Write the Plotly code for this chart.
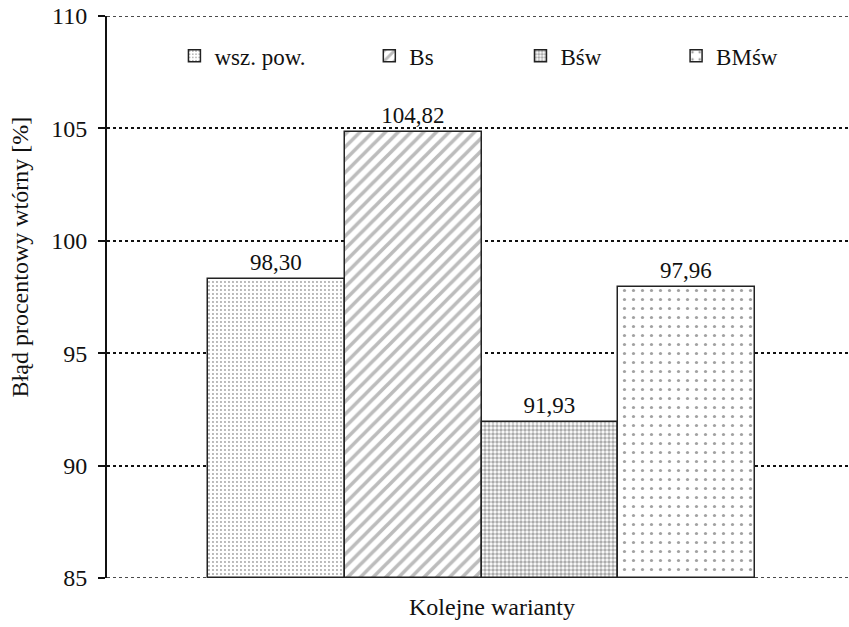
import plotly.graph_objects as go

# Data
variants = ["wsz. pow.", "Bs", "Bśw", "BMśw"]
values = [98.30, 104.82, 91.93, 97.96]
value_labels = ["98,30", "104,82", "91,93", "97,96"]
y_ticks = [85, 90, 95, 100, 105, 110]
x_title = "Kolejne warianty"
y_title = "Błąd procentowy wtórny [%]"

# Fill patterns for each variant
patterns = [
    dict(shape=".", size=4, solidity=0.18, fgcolor="#444444", bgcolor="white"),
    dict(shape="/", size=9, solidity=0.4, fgcolor="#7a7a7a", bgcolor="white"),
    dict(shape=".", size=4, solidity=0.6, fgcolor="#5a5a5a", bgcolor="white"),
    dict(shape=".", size=9, solidity=0.1, fgcolor="#444444", bgcolor="white"),
]

# Legend anchor positions (paper coords) for each entry
legend_x = [0.091, 0.354, 0.558, 0.768]

FONT = "Liberation Serif, Times New Roman, serif"

fig = go.Figure()
for i, (name, v, lab) in enumerate(zip(variants, values, value_labels)):
    fig.add_trace(go.Bar(
        x=[i], y=[v - 85], base=85, width=1.0,
        name=name,
        text=[lab], textposition="outside",
        textfont=dict(family=FONT, size=23, color="#111111"),
        cliponaxis=False,
        marker=dict(color="white", line=dict(color="#222222", width=1.5),
                    pattern=patterns[i]),
        legend="legend" if i == 0 else f"legend{i+1}",
        showlegend=True,
    ))

legend_common = dict(
    orientation="h", y=0.929, yanchor="middle", xanchor="left",
    font=dict(family=FONT, size=23, color="#111111"),
    bgcolor="rgba(0,0,0,0)", itemwidth=30,
)
layout_legends = {}
for i in range(4):
    key = "legend" if i == 0 else f"legend{i+1}"
    layout_legends[key] = dict(legend_common, x=legend_x[i])

# Dotted lines at the bottom and top of the value range
edge_lines = [
    dict(type="line", xref="paper", x0=0, x1=1, yref="y", y0=yv, y1=yv,
         line=dict(color="#111111", width=1.5, dash="dot"), layer="below")
    for yv in (y_ticks[0], y_ticks[-1])
]

# Axis titles
titles = [
    dict(text=x_title, xref="paper", yref="paper", x=0.52, y=-0.052,
         xanchor="center", yanchor="middle", showarrow=False,
         font=dict(family=FONT, size=24, color="#111111")),
    dict(text=y_title, xref="paper", yref="paper", x=-0.117, y=0.571,
         xanchor="center", yanchor="middle", textangle=-90, showarrow=False,
         font=dict(family=FONT, size=24, color="#111111")),
]

fig.update_layout(
    width=849, height=627,
    margin=dict(l=107, r=1, t=16, b=49),
    paper_bgcolor="white", plot_bgcolor="white",
    font=dict(family=FONT, size=23, color="#111111"),
    bargap=0,
    shapes=edge_lines,
    annotations=titles,
    **layout_legends,
)

fig.update_xaxes(
    range=[-1.2386, 4.180],
    showticklabels=False, showgrid=False, zeroline=False, showline=False,
    ticks="",
)
fig.update_yaxes(
    range=[85, 110], tickvals=y_ticks, ticktext=[str(t) + "\u00a0" for t in y_ticks],
    showline=True, linecolor="#111111", linewidth=2,
    ticks="outside", ticklen=7, tickcolor="#111111", tickwidth=1.5,
    showgrid=True, gridcolor="#111111", gridwidth=1.5, griddash="dot",
    zeroline=False,
    tickfont=dict(family=FONT, size=24, color="#111111"),
)

fig.write_html("out.html")
